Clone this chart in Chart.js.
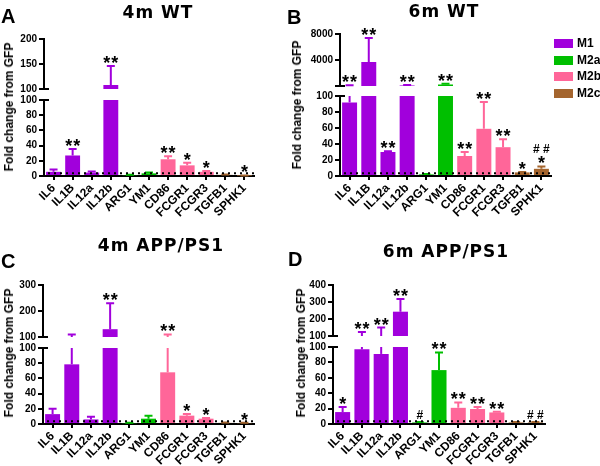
<!DOCTYPE html>
<html lang="en">
<head>
<meta charset="UTF-8">
<title>Fold change from GFP</title>
<script src="https://cdn.jsdelivr.net/npm/chart.js"></script>
<style>
  body { margin: 0; background: #fff; }
  #fig { position: relative; width: 600px; height: 466px; overflow: hidden; background: #fff; }
  #fig canvas { position: absolute; }
  .letter { position: absolute; font: bold 20px/1 "Liberation Sans", Arial, sans-serif; color: #000; }
  .title { position: absolute; font: bold 17px/1 "DejaVu Sans", sans-serif; letter-spacing: 1px; transform: translateX(-50%); white-space: nowrap; color: #000; }
  .ytitle { position: absolute; font: bold 12px/1 "Liberation Sans", Arial, sans-serif; transform: translate(-50%, -50%) rotate(-90deg); white-space: nowrap; color: #000; }
  .lbox { position: absolute; width: 19px; height: 9px; }
  .ltext { position: absolute; font: bold 12px/11px "Liberation Sans", Arial, sans-serif; color: #000; }
</style>
</head>
<body>
<div id="fig"></div>
<script>
const genes = ['IL6', 'IL1B', 'IL12a', 'IL12b', 'ARG1', 'YM1', 'CD86', 'FCGR1', 'FCGR3', 'TGFB1', 'SPHK1'];
const geneGroup = ['M1', 'M1', 'M1', 'M1', 'M2a', 'M2a', 'M2b', 'M2b', 'M2b', 'M2c', 'M2c'];
const groups = ['M1', 'M2a', 'M2b', 'M2c'];
const groupColors = { M1: '#a100dc', M2a: '#00bf00', M2b: '#ff6699', M2c: '#a4652e' };

// mean fold change, and top of the error bar (mean + SEM)
const wt4Mean = [5.5, 27, 4.5, 108, 1, 3.5, 22, 14, 5.5, 1.5, 0.5];
const wt4Err  = [8.5, 35.5, 6, 146, 1.5, 4.5, 26, 17.5, 6.5, 2, 0.8];
const wt4Stars = ['', '**', '', '**', '', '', '**', '*', '*', '', '*'];
const wt4Hash  = ['', '', '', '', '', '', '', '', '', '', ''];

const wt6Mean = [92, 3750, 30, 180, 2, 330, 25, 59, 36, 4.5, 9];
const wt6Err  = [210, 7400, 31, 260, 2.5, 430, 30, 92.5, 46, 5, 12];
const wt6Stars = ['**', '**', '**', '**', '', '**', '**', '**', '**', '*', '*'];
const wt6Hash  = ['', '', '', '', '', '', '', '', '', '', '# #'];

const app4Mean = [13, 78.5, 6, 130, 1, 7, 68, 11, 7, 1.5, 1];
const app4Err  = [20, 110, 9.5, 230, 1.5, 11, 110, 13, 8, 2, 1.5];
const app4Stars = ['', '', '', '**', '', '', '**', '*', '*', '', '*'];
const app4Hash  = ['', '', '', '', '', '', '', '', '', '', ''];

const app6Mean = [15.5, 97, 91, 243, 2, 70, 21, 19.5, 15, 2, 2];
const app6Err  = [22, 124, 150, 318, 2.5, 93, 28, 22, 16, 2.5, 2.5];
const app6Stars = ['*', '**', '**', '**', '', '**', '**', '**', '**', '', ''];
const app6Hash  = ['', '', '', '', '#', '', '', '', '', '', '# #'];

// y axis is broken at 100
const cut = 100;
const gfpLevel = 3.5;
const lowTicks = [0, 20, 40, 60, 80, 100];
const wt4HighTicks = [100, 150, 200];
const wt4HighLabels = ['100', '150', '200'];
const wt6HighTicks = [100, 4000, 8000];
const wt6HighLabels = ['', '4000', '8000'];
const app4HighTicks = [100, 200, 300];
const app4HighLabels = ['100', '200', '300'];
const app6HighTicks = [100, 200, 300, 400];
const app6HighLabels = ['100', '200', '300', '400'];

const panels = [
  { letter: 'A', title: '4m WT', mean: wt4Mean, err: wt4Err, stars: wt4Stars, hash: wt4Hash,
    hi: wt4HighTicks, hiLabels: wt4HighLabels,
    left: 44, right: 254, hiTop: 39, hiBot: 89, loTop: 100, loBot: 176,
    letterAt: [1, 6], titleAt: [158, 4], yTitleAt: [9, 107] },
  { letter: 'B', title: '6m WT', mean: wt6Mean, err: wt6Err, stars: wt6Stars, hash: wt6Hash,
    hi: wt6HighTicks, hiLabels: wt6HighLabels,
    left: 340, right: 551, hiTop: 34, hiBot: 86, loTop: 96, loBot: 176,
    letterAt: [287, 7], titleAt: [444, 3], yTitleAt: [297, 105] },
  { letter: 'C', title: '4m APP/PS1', mean: app4Mean, err: app4Err, stars: app4Stars, hash: app4Hash,
    hi: app4HighTicks, hiLabels: app4HighLabels,
    left: 43, right: 254, hiTop: 285, hiBot: 337, loTop: 348, loBot: 424,
    letterAt: [1, 251], titleAt: [161, 237], yTitleAt: [9, 353] },
  { letter: 'D', title: '6m APP/PS1', mean: app6Mean, err: app6Err, stars: app6Stars, hash: app6Hash,
    hi: app6HighTicks, hiLabels: app6HighLabels,
    left: 333, right: 545, hiTop: 285, hiBot: 336, loTop: 347, loBot: 424,
    letterAt: [288, 249], titleAt: [446, 243], yTitleAt: [301, 353] }
];

const fig = document.getElementById('fig');
const barColors = genes.map((g, i) => groupColors[geneGroup[i]]);

function addDiv(cls, text, x, y) {
  const d = document.createElement('div');
  d.className = cls;
  d.textContent = text;
  d.style.left = x + 'px';
  d.style.top = y + 'px';
  fig.appendChild(d);
  return d;
}

function makeCanvas(x, y, w, h) {
  const c = document.createElement('canvas');
  c.width = w; c.height = h;
  c.style.left = x + 'px'; c.style.top = y + 'px';
  c.style.width = w + 'px'; c.style.height = h + 'px';
  fig.appendChild(c);
  return c;
}

// error bars, significance marks, GFP dotted line, axis break marks
function overlay(p, part) {
  return {
    id: 'overlay',
    afterDatasetsDraw(chart) {
      const ctx = chart.ctx, xs = chart.scales.x, ys = chart.scales.y, area = chart.chartArea;
      ctx.save();
      ctx.lineWidth = 2;
      p.mean.forEach((m, i) => {
        const e = p.err[i];
        const x = xs.getPixelForValue(i);
        let from, to, cap;
        if (part === 'low') { from = Math.min(m, cut); to = Math.min(e, cut); cap = e <= cut; }
        else { if (e <= cut) return; from = Math.max(m, cut); to = e; cap = true; }
        if (to <= from) return;
        const y0 = ys.getPixelForValue(from), y1 = ys.getPixelForValue(to);
        ctx.strokeStyle = barColors[i];
        ctx.beginPath();
        ctx.moveTo(x, y0); ctx.lineTo(x, y1);
        if (cap) { ctx.moveTo(x - 4, y1); ctx.lineTo(x + 4, y1); }
        ctx.stroke();
      });
      ctx.fillStyle = '#000';
      ctx.textAlign = 'center';
      ctx.textBaseline = 'alphabetic';
      p.mean.forEach((m, i) => {
        const top = Math.max(m, p.err[i]);
        if ((top > cut) !== (part === 'high')) return;
        const x = xs.getPixelForValue(i);
        let bottom = ys.getPixelForValue(top) - 3;
        if (p.stars[i]) {
          ctx.font = 'bold 18px "Liberation Sans"';
          ctx.letterSpacing = '1px';
          const mt = ctx.measureText(p.stars[i]);
          const base = bottom - mt.actualBoundingBoxDescent;
          ctx.fillText(p.stars[i], x + 0.5, base);
          bottom = base - mt.actualBoundingBoxAscent - 3;
          ctx.letterSpacing = '0px';
        }
        if (p.hash[i]) {
          ctx.font = 'bold 12px "Liberation Sans"';
          const mh = ctx.measureText(p.hash[i]);
          ctx.fillText(p.hash[i], x, bottom - mh.actualBoundingBoxDescent);
        }
      });
      ctx.strokeStyle = '#000';
      ctx.beginPath();
      const yb = part === 'low' ? area.top : area.bottom;
      ctx.moveTo(area.left, yb); ctx.lineTo(area.left + 5, yb);
      ctx.stroke();
      if (part === 'low') {
        const yg = ys.getPixelForValue(gfpLevel);
        ctx.setLineDash([2, 4]);
        ctx.beginPath();
        ctx.moveTo(area.left + 4, yg); ctx.lineTo(area.right, yg);
        ctx.stroke();
      }
      ctx.restore();
    }
  };
}

function yScale(min, max, ticks, labels) {
  return {
    min: min, max: max,
    afterBuildTicks: s => { s.ticks = ticks.map(v => ({ value: v })); },
    afterFit: s => { s.width = 44; },
    grid: { drawOnChartArea: false, drawTicks: true, tickLength: 5, color: '#000', lineWidth: 2 },
    border: { display: true, color: '#000', width: 2 },
    ticks: {
      color: '#000', padding: 2,
      font: { family: 'Liberation Sans', weight: 'bold', size: 10 },
      callback: (v, i) => labels[i]
    }
  };
}

panels.forEach(p => {
  const cx = p.left - 44;
  const cw = p.right - p.left + 44 + 10;

  // upper segment, above the break
  const hc = makeCanvas(cx, p.hiTop - 30, cw, p.hiBot - p.hiTop + 38);
  new Chart(hc, {
    type: 'bar',
    data: {
      labels: genes,
      datasets: [{
        data: p.mean.map(v => v > cut ? v : null),
        backgroundColor: barColors, barPercentage: 0.78, categoryPercentage: 1, clip: 0
      }]
    },
    options: {
      responsive: false, animation: false, devicePixelRatio: 1,
      layout: { padding: { left: 0, top: 30, right: 10, bottom: 8 } },
      plugins: { legend: { display: false }, tooltip: { enabled: false } },
      scales: {
        x: { display: false, offset: true },
        y: yScale(p.hi[0], p.hi[p.hi.length - 1], p.hi, p.hiLabels)
      }
    },
    plugins: [overlay(p, 'high')]
  });

  // lower segment, 0 to 100
  const lc = makeCanvas(cx, p.loTop - 20, cw, p.loBot - p.loTop + 75);
  new Chart(lc, {
    type: 'bar',
    data: {
      labels: genes,
      datasets: [{
        data: p.mean.map(v => Math.min(v, cut)),
        backgroundColor: barColors, barPercentage: 0.78, categoryPercentage: 1, clip: 0
      }]
    },
    options: {
      responsive: false, animation: false, devicePixelRatio: 1,
      layout: { padding: { left: 0, top: 20, right: 10, bottom: 0 } },
      plugins: { legend: { display: false }, tooltip: { enabled: false } },
      scales: {
        x: {
          offset: true,
          afterFit: s => { s.height = 55; },
          grid: { offset: false, drawOnChartArea: false, drawTicks: true, tickLength: 4, color: '#000', lineWidth: 2 },
          border: { display: true, color: '#000', width: 2 },
          ticks: {
            color: '#000', padding: 1, autoSkip: false, minRotation: 45, maxRotation: 45,
            font: { family: 'Liberation Sans', weight: 'bold', size: 12 }
          }
        },
        y: yScale(0, cut, lowTicks, lowTicks.map(String))
      }
    },
    plugins: [overlay(p, 'low')]
  });

  addDiv('letter', p.letter, p.letterAt[0], p.letterAt[1]);
  addDiv('title', p.title, p.titleAt[0], p.titleAt[1]);
  addDiv('ytitle', 'Fold change from GFP', p.yTitleAt[0], p.yTitleAt[1]);
});

groups.forEach((g, i) => {
  const top = 39 + Math.round(i * 16.7);
  const b = addDiv('lbox', '', 554, top);
  b.style.background = groupColors[g];
  addDiv('ltext', g, 577, top - 1);
});
</script>
</body>
</html>
